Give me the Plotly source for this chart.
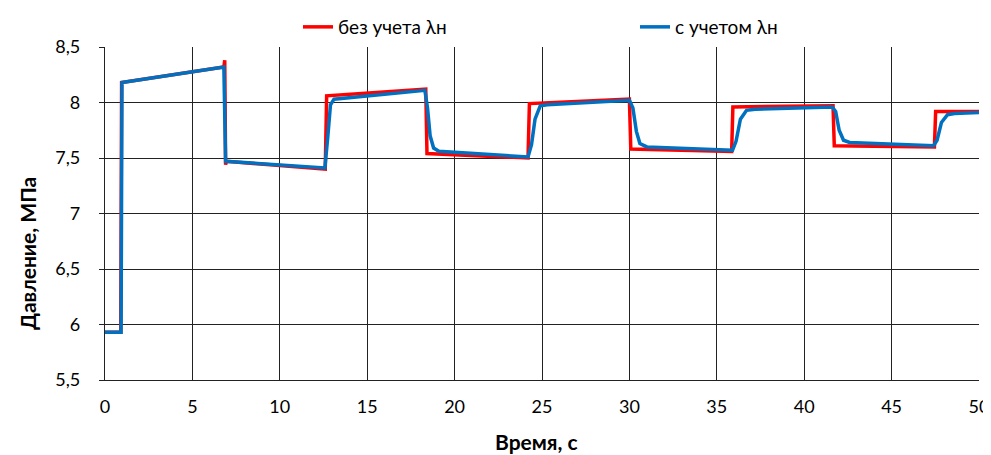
import plotly.graph_objects as go

# Series "без учета λн" (red)
t_red = [0, 0.9, 0.95, 6.8, 6.85, 6.9, 6.95, 12.6, 12.68, 18.35, 18.42,
         24.2, 24.28, 30.0, 30.08, 35.85, 35.92, 41.65, 41.72, 47.45, 47.52, 50]
p_red = [5.93, 5.93, 8.18, 8.32, 8.38, 7.44, 7.47, 7.40, 8.06, 8.12, 7.54,
         7.50, 7.99, 8.03, 7.58, 7.56, 7.96, 7.97, 7.61, 7.60, 7.92, 7.92]

# Series "с учетом λн" (blue)
t_blue = [0, 0.92, 0.97, 6.8, 6.9, 12.58, 12.75, 12.9, 13.1, 18.3, 18.45, 18.6,
          18.8, 19.1, 24.2, 24.4, 24.6, 24.9, 25.3, 30.0, 30.2, 30.4, 30.6, 31.0,
          35.9, 36.1, 36.35, 36.7, 37.2, 41.6, 41.8, 42.0, 42.25, 42.6, 47.4,
          47.6, 47.85, 48.2, 48.6, 50]
p_blue = [5.93, 5.93, 8.18, 8.32, 7.47, 7.41, 7.70, 7.98, 8.03, 8.11, 7.95, 7.70,
          7.59, 7.56, 7.51, 7.62, 7.85, 7.97, 7.98, 8.02, 7.95, 7.74, 7.63, 7.60,
          7.57, 7.65, 7.85, 7.93, 7.94, 7.96, 7.92, 7.75, 7.66, 7.64, 7.61,
          7.66, 7.82, 7.89, 7.90, 7.91]

names = ["без учета λн", "с учетом λн"]
x_title = "Время, с"
y_title = "Давление, МПа"
x_ticks = [0, 5, 10, 15, 20, 25, 30, 35, 40, 45, 50]
y_ticks = [5.5, 6, 6.5, 7, 7.5, 8, 8.5]

FONT = "Lato"
GRID = "#222222"
# page body has an 8px margin, so the figure is sized to fit the 991x455 window
W, H = 983, 447
ML, MR, MT, MB = 97, 12, 39, 75
PW, PH = W - ML - MR, H - MT - MB

fig = go.Figure()
fig.add_trace(go.Scatter(x=t_red, y=p_red, mode="lines", name=names[0],
                         line=dict(color="#FF0000", width=3.5)))
fig.add_trace(go.Scatter(x=t_blue, y=p_blue, mode="lines", name=names[1],
                         line=dict(color="#0070C0", width=3.5)))

fig.update_layout(
    width=W, height=H,
    margin=dict(l=ML, r=MR, t=MT, b=MB, autoexpand=False),
    paper_bgcolor="white", plot_bgcolor="white",
    separators=", ",
    font=dict(family=FONT, size=18, color="#000000"),
    showlegend=True,
    legend=dict(orientation="h", x=(298 - 105) / PW, xanchor="left",
                y=1.0 + MT / PH, yanchor="top", entrywidth=292,
                entrywidthmode="pixels", font=dict(family=FONT, size=19),
                bgcolor="rgba(0,0,0,0)"),
    xaxis=dict(range=[0, 50], tickvals=x_ticks, showgrid=True,
               gridcolor=GRID, gridwidth=1.3, zeroline=False,
               showline=True, linecolor=GRID, linewidth=1.3,
               ticks="", ticklabelstandoff=10, automargin=False,
               tickfont=dict(family=FONT, size=18)),
    yaxis=dict(range=[5.5, 8.5], tickvals=y_ticks, showgrid=True,
               gridcolor=GRID, gridwidth=1.3, zeroline=False,
               showline=True, linecolor=GRID, linewidth=1.3,
               ticks="outside", ticklen=5, tickcolor=GRID,
               ticklabelstandoff=15, automargin=False,
               tickfont=dict(family=FONT, size=18)),
    annotations=[
        dict(text="<b>" + x_title + "</b>", xref="paper", yref="paper",
             x=(536 - 105) / PW, y=-(441 - 380) / PH, xanchor="center",
             yanchor="middle", showarrow=False,
             font=dict(family=FONT, size=21)),
        dict(text="<b>" + y_title + "</b>", xref="paper", yref="paper",
             x=-(105 - 27) / PW, y=(380 - 254) / PH, xanchor="center",
             yanchor="middle", textangle=-90, showarrow=False,
             font=dict(family=FONT, size=21)),
    ],
)

fig.write_html("out.html")
